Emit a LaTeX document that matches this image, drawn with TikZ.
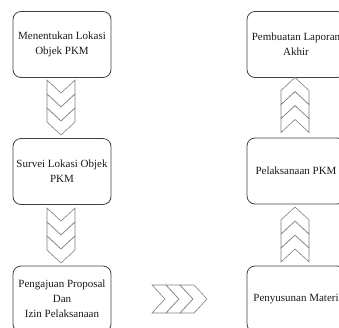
\documentclass[tikz,border=0pt]{standalone}
\usepackage{fontspec}
\setmainfont{Liberation Serif}
\begin{document}
\begin{tikzpicture}[x=1pt,y=-1pt,
  box/.style={draw=black!75, line width=0.8pt, rounded corners=8pt,
    minimum width=98pt, minimum height=66pt, align=center,
    font=\fontsize{11}{15}\selectfont, text=black!90, inner sep=2pt},
  chevline/.style={draw=black!50, fill=white, line width=0.6pt, line join=miter},
  chev/.pic={\path[chevline] (-14,-13.5) -- (0,-0.5) -- (14,-13.5) -- (14,0.5) -- (0,13.5) -- (-14,0.5) -- cycle;}
]
\useasboundingbox (0,0) rectangle (339,327);
% left column
\node[box] (b1) at (62,44.5) {Menentukan Lokasi\\Objek PKM};
\node[box] (b2) at (62,171.5) {Survei Lokasi Objek\\PKM};
\node[box] (b3) at (62,299) {Pengajuan Proposal\\Dan\\Izin Pelaksanaan};
% right column
\node[box] (r1) at (296,44.5) {Pembuatan Laporan\\Akhir};
\node[box] (r2) at (296,171) {Pelaksanaan PKM};
\node[box] (r3) at (296,299) {Penyusunan Materi};
% down chevrons
\foreach \yy in {93.5,107.5,121.5} \pic at (61,\yy) {chev};
\foreach \yy in {221.5,235.5,249.5} \pic at (61,\yy) {chev};
% up chevrons
\foreach \yy in {119,105,91} \pic[rotate=180] at (295,\yy) {chev};
\foreach \yy in {248.5,234.5,220.5} \pic[rotate=180] at (295,\yy) {chev};
% right chevrons
\foreach \xx in {165.5,179.5,193.5} \pic[rotate=90] at (\xx,299) {chev};
\end{tikzpicture}
\end{document}
